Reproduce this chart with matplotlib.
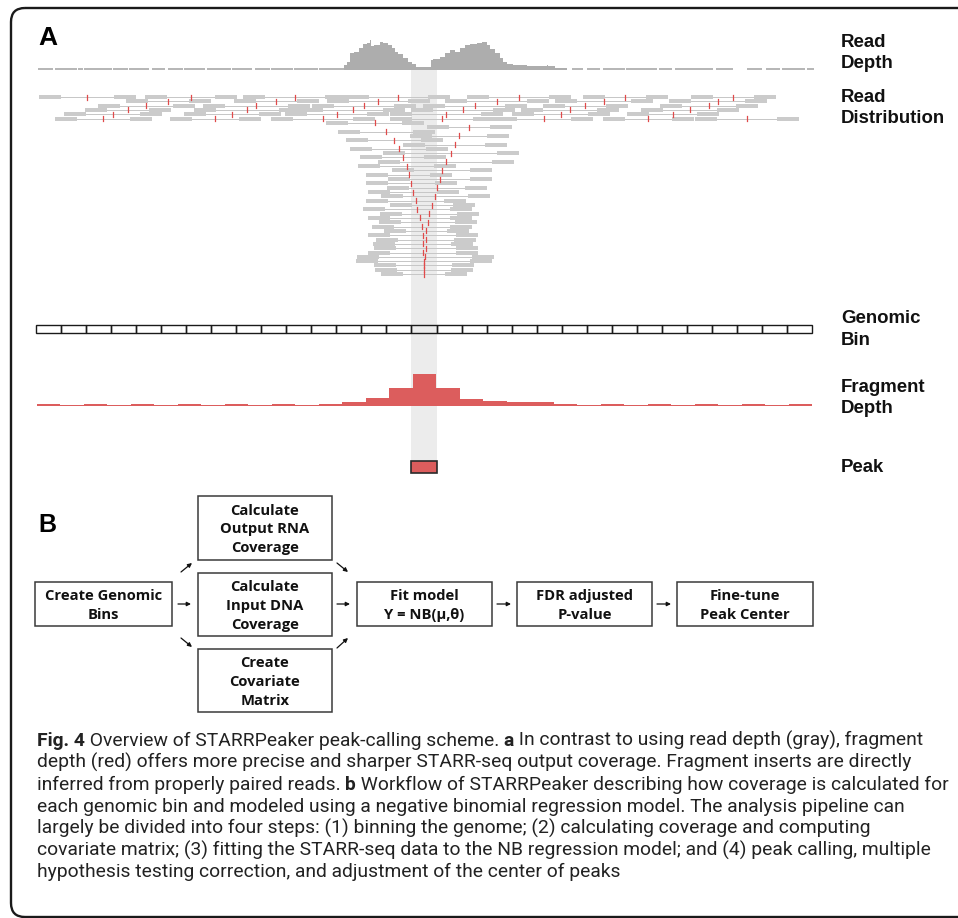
import numpy as np
import matplotlib.pyplot as plt
from matplotlib.patches import Rectangle, FancyBboxPatch
from matplotlib import font_manager

# ---------------- panel A: track data (x in track pixels) ----------------
# read depth pile-up around the enhancer (step edges / heights)
depth_edges = [344, 346.7, 350, 354, 359.3, 363.3, 366.7, 370, 371.3, 374,
               380, 383.3, 388.3, 391.7, 395, 398.3, 403.3, 408.3, 411.7, 416,
               430.7, 433.3, 440, 445, 450, 455, 460, 465, 470, 476.7,
               481.7, 486.7, 490, 495, 500, 503.3, 506.7, 513.3, 526.7, 546.7,
               548.3, 555, 567]
depth_heights = [4, 7.3, 15.7, 16.7, 20.7, 24.7, 26, 29, 23, 24,
                 27.3, 25.7, 24, 20.7, 17.3, 14.7, 11.3, 7.3, 4.7, 2.3,
                 9, 10, 12.3, 15.7, 19, 16.7, 20.7, 24, 24.7, 25.7,
                 26.7, 24, 20, 15.7, 11.3, 7.3, 5, 4, 3, 4,
                 3, 1.3]
# background coverage (covered stretches, gaps = zero depth)
cov_start = [38, 55, 78, 84, 113, 129, 152, 168, 184, 207, 232, 255, 271, 294, 319,
             555, 572, 587, 603, 626, 659, 675, 716, 747, 766, 782, 807]
cov_end = [53, 77, 83, 112, 128, 149, 165, 183, 205, 231, 252, 270, 293, 318, 344,
           567, 583, 600, 625, 657, 672, 713, 733, 762, 780, 805, 814]

# paired-end fragments (left read start, right read end), background rows
top_fragments = [
    [(39, 136), (145, 237), (243, 347), (347, 450), (467, 571), (583, 668), (691, 776)],
    [(126, 211), (234, 319), (327, 430), (445, 549), (555, 653), (669, 767)],
    [(98, 195), (203, 310), (312, 416), (423, 527), (543, 628), (660, 758)],
    [(85, 171), (194, 301), (301, 405), (411, 515), (521, 619), (641, 739)],
    [(64, 162), (184, 281), (285, 389), (390, 503), (512, 610), (627, 719)],
    [(55, 152), (170, 261), (271, 375), (390, 495), (495, 593), (603, 694), (695, 799)],
]
# fragments stacked under the peak, one per row
fan_start = [326, 427, 338, 410, 346, 403, 350, 383, 360, 378, 358, 392, 366, 388, 366, 387, 368, 381,
             366, 390, 363, 380, 368, 379, 372, 384, 368, 376, 373, 374, 368, 357, 356, 374, 375, 381]
fan_end = [424, 512, 435, 509, 443, 507, 448, 519, 446, 514, 456, 492, 452, 492, 457, 487, 459, 490,
           466, 475, 472, 479, 472, 477, 472, 469, 478, 476, 473, 478, 478, 494, 492, 474, 473, 467]
read_len = 22

n_bins = 31
frag_depth = [2, 1, 2, 1, 2, 1, 2, 1, 2, 1, 2, 1, 2,
              3.7, 8, 17.7, 31.7, 17.7, 7, 5, 3.7, 3.7,
              2, 1, 2, 1, 2, 1, 2, 1, 2, 1, 2]
peak_bin = 15

track_labels = ["Read\nDepth", "Read\nDistribution", "Genomic\nBin", "Fragment\nDepth", "Peak"]
label_tops = [46.7, 101.7, 323.3, 391.7, 471.7]

# ---------------- panel B: workflow ----------------
steps = ["Create Genomic\nBins", "Calculate\nOutput RNA\nCoverage", "Calculate\nInput DNA\nCoverage",
         "Create\nCovariate\nMatrix", "Fit model\nY = NB(μ,θ)", "FDR adjusted\nP-value",
         "Fine-tune\nPeak Center"]
step_boxes = [(35, 582, 172, 626), (198, 496, 332, 560), (198, 573, 332, 636),
              (198, 649, 332, 712), (357, 582, 492, 626), (517, 582, 652, 626),
              (677, 582, 813, 626)]
arrows = [((178, 604), (191, 604)), ((337, 604), (350, 604)), ((497, 604), (511, 604)),
          ((657, 604), (671, 604)), ((181, 572), (192, 563)), ((181, 638), (192, 647)),
          ((337, 563), (348, 572)), ((337, 648), (348, 638))]

caption = [
    [("Fig. 4", True), (" Overview of STARRPeaker peak-calling scheme. ", False), ("a", True),
     (" In contrast to using read depth (gray), fragment", False)],
    [("depth (red) offers more precise and sharper STARR-seq output coverage. Fragment inserts are directly", False)],
    [("inferred from properly paired reads. ", False), ("b", True),
     (" Workflow of STARRPeaker describing how coverage is calculated for", False)],
    [("each genomic bin and modeled using a negative binomial regression model. The analysis pipeline can", False)],
    [("largely be divided into four steps: (1) binning the genome; (2) calculating coverage and computing", False)],
    [("covariate matrix; (3) fitting the STARR-seq data to the NB regression model; and (4) peak calling, multiple", False)],
    [("hypothesis testing correction, and adjustment of the center of peaks", False)],
]

RED = '#dc5d5d'
GRAY = '#adadad'
READ = '#cbcbcb'

fig = plt.figure(figsize=(9.58, 9.18), dpi=100)
ax = fig.add_axes([0, 0, 1, 1])
ax.set_xlim(0, 958)
ax.set_ylim(918, 0)
ax.axis('off')

# outer rounded frame
ax.add_patch(FancyBboxPatch((11, 8), 980, 909, boxstyle='round,pad=0,rounding_size=14',
                            fill=False, lw=1.7, ec='#1a1a1a'))

bin_edges = np.linspace(36, 812, n_bins + 1)
pk_lo, pk_hi = bin_edges[peak_bin], bin_edges[peak_bin + 1]

# grey band through the peak bin
ax.add_patch(Rectangle((pk_lo, 69), pk_hi - pk_lo, 473 - 69, fc='#ececec', ec='none', zorder=0))

# read depth
base = 69
ax.hlines([base] * len(cov_start), cov_start, cov_end, color=GRAY, lw=1.25)
ax.stairs(base - np.array(depth_heights), depth_edges, baseline=base + 0.8,
          fill=True, color=GRAY, lw=0)

# read distribution
def draw_fragment(s, e, row):
    y = 97 + 4.32 * row
    ax.plot([s + read_len, e - read_len], [y, y], color='#c6c6c6', lw=0.7, zorder=2)
    ax.add_patch(Rectangle((s, y - 2), read_len, 4, fc=READ, ec='none', zorder=3))
    ax.add_patch(Rectangle((e - read_len, y - 2), read_len, 4, fc=READ, ec='none', zorder=3))
    c = (s + e) / 2
    ax.plot([c, c], [y - 2.5, y + 2.5], color='#e04a4a', lw=0.9, zorder=4)

for r, frags in enumerate(top_fragments):
    for s, e in frags:
        draw_fragment(s, e, r)
for i, (s, e) in enumerate(zip(fan_start, fan_end)):
    draw_fragment(s, e, len(top_fragments) + i)

# genomic bins
for lo, hi in zip(bin_edges[:-1], bin_edges[1:]):
    ax.add_patch(Rectangle((lo, 325), hi - lo, 8, fill=False, ec='#1a1a1a', lw=1.0, zorder=3))

# fragment depth
fbase = 406
frag_edges = np.linspace(37, 812, len(frag_depth) + 1)
ax.stairs(fbase - np.array(frag_depth), frag_edges, baseline=fbase, fill=True, color=RED, lw=0)

# called peak
ax.add_patch(Rectangle((pk_lo, 461), pk_hi - pk_lo, 12, fc=RED, ec='#2a2a2a', lw=1.2, zorder=3))

# panel letters and track names
ax.text(38, 45, "A", fontsize=19, fontweight='bold', family='Liberation Sans', va='baseline')
ax.text(38, 532, "B", fontsize=18, fontweight='bold', family='Liberation Sans', va='baseline')
for lab, y0 in zip(track_labels, label_tops):
    for k, line in enumerate(lab.split('\n')):
        ax.text(841, y0 + 21.7 * k, line, fontsize=13.4, fontweight='bold',
                family='Liberation Sans', va='baseline', color='#111')

# workflow boxes
for lab, (x0, y0, x1, y1) in zip(steps, step_boxes):
    ax.add_patch(Rectangle((x0, y0), x1 - x0, y1 - y0, fill=False, ec='#3a3a3a', lw=1.1))
    lines = lab.split('\n')
    cy = (y0 + y1) / 2
    for k, line in enumerate(lines):
        yb = cy - (len(lines) - 1) / 2 * 18.7 + 18.7 * k + 5.5
        ax.text((x0 + x1) / 2, yb, line, fontsize=10.6, fontweight='bold', family='Open Sans',
                ha='center', va='baseline', color='#111')
for a, b in arrows:
    ax.annotate('', xy=b, xytext=a,
                arrowprops=dict(arrowstyle='-|>', color='#111', lw=0.9, mutation_scale=6,
                                shrinkA=0, shrinkB=0))

# caption with bold run-in labels; prefer a narrow face if one is installed
installed = {f.name for f in font_manager.fontManager.ttflist}
cap_font = next((f for f in ['Liberation Sans Narrow', 'Roboto'] if f in installed), 'Open Sans')
renderer = fig.canvas.get_renderer()

def width(s, size, bold):
    kw = dict(fontsize=size, family=cap_font, fontweight='bold' if bold else 'normal')
    t1 = ax.text(0, 0, '|' + s + '|', **kw)
    t2 = ax.text(0, 0, '||', **kw)
    w = t1.get_window_extent(renderer).width - t2.get_window_extent(renderer).width
    t1.remove()
    t2.remove()
    return w

line1 = sum(width(s, 10, b) for s, b in caption[0])
cap_size = 10 * 888 / line1
for k, pieces in enumerate(caption):
    x = 37
    y = 745.7 + 21.95 * k
    for s, b in pieces:
        ax.text(x, y, s, fontsize=cap_size, family=cap_font, fontweight='bold' if b else 'normal',
                va='baseline', ha='left', color='#222')
        x += width(s, cap_size, b)

fig.savefig('out.png', dpi=100)
